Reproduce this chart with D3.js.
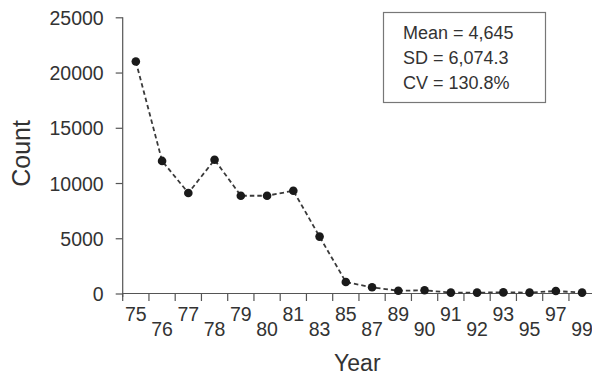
<!DOCTYPE html>
<html>
<head>
<meta charset="utf-8">
<script src="https://cdn.jsdelivr.net/npm/d3@7"></script>
<style>
  html, body { margin: 0; padding: 0; background: #fff; }
  svg { display: block; font-family: "Liberation Sans", Arial, Helvetica, sans-serif; }
</style>
</head>
<body>
<svg id="chart" width="592" height="375"></svg>
<script>
const years = ["75","76","77","78","79","80","81","83","85","87","89","90","91","92","93","95","97","99"];
const counts = [21000,12000,9100,12100,8850,8850,9300,5150,1040,560,250,290,80,80,100,80,220,80];
const yTicks = [0,5000,10000,15000,20000,25000];
const statLines = ["Mean = 4,645","SD = 6,074.3","CV = 130.8%"];

const svg = d3.select("#chart");
const W = 592, H = 375;
const mLeft = 122.7, mTop = 17.3, mBottom = 293.5;
const bandW = 26.25;

const x = d3.scaleBand().domain(years).range([mLeft, mLeft + bandW * years.length]).paddingInner(0).paddingOuter(0);
const y = d3.scaleLinear().domain([0, 25000]).range([mBottom, mTop]);

const axisColor = "#555";
const textColor = "#333";

// Y axis
const yAxis = d3.axisLeft(y).tickValues(yTicks).tickSize(7).tickPadding(12).tickFormat(d3.format("d"));
const gy = svg.append("g").attr("transform", `translate(${mLeft},0)`).call(yAxis);
gy.select(".domain").remove();
gy.selectAll(".tick line").attr("stroke", axisColor).attr("stroke-width", 1.2);
gy.selectAll(".tick text").attr("fill", textColor).style("font-size", "19.5px").attr("dy", "0.36em");
gy.append("line").attr("x1", 0).attr("x2", 0).attr("y1", y(25000)).attr("y2", y(0) + 3.5)
  .attr("stroke", axisColor).attr("stroke-width", 1.2);

// X axis
const gx = svg.append("g");
gx.append("line").attr("x1", mLeft).attr("x2", W).attr("y1", y(0)).attr("y2", y(0))
  .attr("stroke", axisColor).attr("stroke-width", 1.2);
gx.selectAll("line.tk").data(years).enter().append("line").attr("class", "tk")
  .attr("x1", d => x(d)).attr("x2", d => x(d))
  .attr("y1", y(0)).attr("y2", y(0) + 7.5)
  .attr("stroke", axisColor).attr("stroke-width", 1.2);
gx.selectAll("text.lbl").data(years).enter().append("text").attr("class", "lbl")
  .attr("x", d => x(d) + x.bandwidth() / 2)
  .attr("y", (d, i) => y(0) + (i % 2 === 0 ? 27.5 : 42.5))
  .attr("text-anchor", "middle")
  .attr("fill", textColor)
  .style("font-size", "19.5px")
  .text(d => d);

// Axis titles
svg.append("text").attr("x", (mLeft + W) / 2).attr("y", 371).attr("text-anchor", "middle")
  .attr("fill", textColor).style("font-size", "23px").text("Year");
svg.append("text").attr("transform", `translate(30,${(y(25000) + y(0)) / 2 - 2}) rotate(-90)`)
  .attr("text-anchor", "middle").attr("fill", textColor).style("font-size", "25px").text("Count");

// Line
const line = d3.line().x((d, i) => x(years[i]) + x.bandwidth() / 2).y(d => y(d));
svg.append("path").datum(counts).attr("d", line).attr("fill", "none")
  .attr("stroke", "#3a3a3a").attr("stroke-width", 1.8).attr("stroke-dasharray", "4.5,3");

svg.selectAll("circle.pt").data(counts).enter().append("circle").attr("class", "pt")
  .attr("cx", (d, i) => x(years[i]) + x.bandwidth() / 2)
  .attr("cy", d => y(d))
  .attr("r", 4.3)
  .attr("fill", "#1a1a1a");

// Stats box
const box = svg.append("g");
box.append("rect").attr("x", 383.5).attr("y", 12.5).attr("width", 162).attr("height", 90)
  .attr("fill", "#fff").attr("stroke", "#777").attr("stroke-width", 1.2);
box.selectAll("text").data(statLines).enter().append("text")
  .attr("x", 403).attr("y", (d, i) => 39 + i * 25)
  .attr("fill", textColor).style("font-size", "18px").text(d => d);
</script>
</body>
</html>
